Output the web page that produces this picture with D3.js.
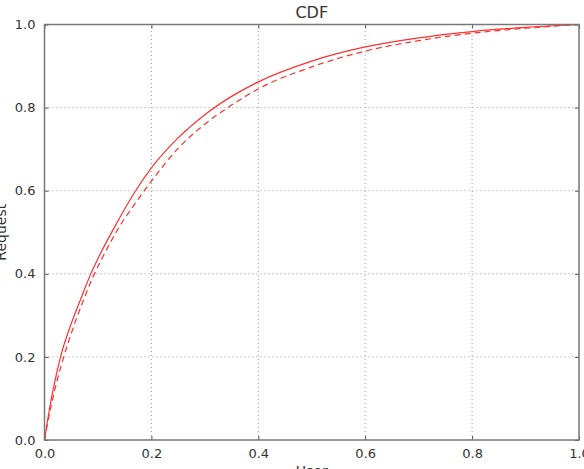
<!DOCTYPE html>
<html>
<head>
<meta charset="utf-8">
<script src="https://cdn.jsdelivr.net/npm/d3@7"></script>
<style>
  html, body { margin: 0; padding: 0; background: #fff; overflow: hidden; }
  text { font-family: "DejaVu Sans", sans-serif; fill: #333; }
</style>
</head>
<body>
<div id="chart"></div>
<script>
// 数据 (从图上读出来的)
const xTicks = [0.0, 0.2, 0.4, 0.6, 0.8, 1.0]
const yTicks = [0.0, 0.2, 0.4, 0.6, 0.8, 1.0]

// 实线
const solidX = [0, 0.01, 0.02, 0.03, 0.05, 0.068, 0.085, 0.104, 0.13, 0.169, 0.2, 0.25, 0.3, 0.35, 0.4, 0.5, 0.6, 0.7, 0.8, 0.9, 1.0]
const solidY = [0, 0.08, 0.145, 0.2, 0.28, 0.34, 0.395, 0.447, 0.51, 0.597, 0.655, 0.727, 0.783, 0.827, 0.862, 0.912, 0.946, 0.968, 0.983, 0.993, 1.0]

// 虚线
const dashX = [0, 0.012, 0.024, 0.036, 0.055, 0.073, 0.09, 0.11, 0.14, 0.17, 0.2, 0.25, 0.3, 0.35, 0.4, 0.5, 0.6, 0.7, 0.8, 0.9, 1.0]
const dashY = [0, 0.08, 0.145, 0.2, 0.275, 0.337, 0.39, 0.443, 0.513, 0.57, 0.623, 0.702, 0.76, 0.806, 0.845, 0.898, 0.936, 0.961, 0.979, 0.991, 1.0]

const titleText = 'CDF'
const xtitle = 'User'
const ytitle = 'Request'

function cdf_chart () {
  const width = 584
  const height = 469
  const margin = { left: 44.5, right: 5, top: 24.5, bottom: 29 }
  const svg = d3.select('#chart').append('svg').attr('width', width).attr('height', height)

  // 比例尺
  const x = d3.scaleLinear().domain([0, 1]).range([margin.left, width - margin.right])
  const y = d3.scaleLinear().domain([0, 1]).range([height - margin.bottom, margin.top])

  // 背景网格 (点线)
  const grid = svg.append('g').attr('class', 'grid')
  grid.selectAll('.gx').data(xTicks.slice(1, -1)).enter().append('line')
    .attr('x1', d => x(d)).attr('x2', d => x(d))
    .attr('y1', y(0)).attr('y2', y(1))
    .attr('stroke', '#999').attr('stroke-width', 1).attr('stroke-dasharray', '1,3')
  grid.selectAll('.gy').data(yTicks.slice(1, -1)).enter().append('line')
    .attr('x1', x(0)).attr('x2', x(1))
    .attr('y1', d => y(d)).attr('y2', d => y(d))
    .attr('stroke', '#999').attr('stroke-width', 1).attr('stroke-dasharray', '1,3')

  // 曲线
  const line = d3.line().x(d => x(d[0])).y(d => y(d[1])).curve(d3.curveMonotoneX)
  svg.append('path').datum(solidX.map((d, i) => [d, solidY[i]]))
    .attr('d', line).attr('fill', 'none').attr('stroke', '#ff3030').attr('stroke-width', 1.2)
  svg.append('path').datum(dashX.map((d, i) => [d, dashY[i]]))
    .attr('d', line).attr('fill', 'none').attr('stroke', '#ff3030').attr('stroke-width', 1.2)
    .attr('stroke-dasharray', '6,4')

  // 坐标轴 (刻度朝内, 四边都有)
  const tickLen = 4
  const bottom = svg.append('g').attr('class', 'xAxis').attr('transform', 'translate(0,' + y(0) + ')')
    .call(d3.axisBottom(x).tickValues(xTicks).tickFormat(d3.format('.1f')).tickSizeInner(-tickLen).tickSizeOuter(0).tickPadding(9))
  const left = svg.append('g').attr('class', 'yAxis').attr('transform', 'translate(' + x(0) + ',0)')
    .call(d3.axisLeft(y).tickValues(yTicks).tickFormat(d3.format('.1f')).tickSizeInner(-tickLen).tickSizeOuter(0).tickPadding(9))
  const top = svg.append('g').attr('transform', 'translate(0,' + y(1) + ')')
    .call(d3.axisTop(x).tickValues(xTicks).tickFormat('').tickSizeInner(-tickLen).tickSizeOuter(0))
  const right = svg.append('g').attr('transform', 'translate(' + x(1) + ',0)')
    .call(d3.axisRight(y).tickValues(yTicks).tickFormat('').tickSizeInner(-tickLen).tickSizeOuter(0))
  ;[bottom, left, top, right].forEach(g => {
    g.select('.domain').remove()
    g.selectAll('line').attr('stroke', '#555')
    g.selectAll('text').style('font-size', '13px').style('font-family', '"DejaVu Sans", sans-serif').attr('fill', '#333')
  })

  // 外框
  svg.append('rect')
    .attr('x', x(0)).attr('y', y(1))
    .attr('width', x(1) - x(0)).attr('height', y(0) - y(1))
    .attr('fill', 'none').attr('stroke', '#777').attr('stroke-width', 1.5)

  // 标题和坐标轴 title
  svg.append('text').text(titleText)
    .attr('x', (x(0) + x(1)) / 2).attr('y', 17.5)
    .attr('text-anchor', 'middle').style('font-size', '16px')
  svg.append('text').text(xtitle)
    .attr('x', (x(0) + x(1)) / 2).attr('y', 476)
    .attr('text-anchor', 'middle').style('font-size', '14px')
  svg.append('text').text(ytitle)
    .attr('transform', 'translate(6,' + (y(0) + y(1)) / 2 + ') rotate(-90)')
    .attr('text-anchor', 'middle').style('font-size', '14px')
}

cdf_chart()
</script>
</body>
</html>
